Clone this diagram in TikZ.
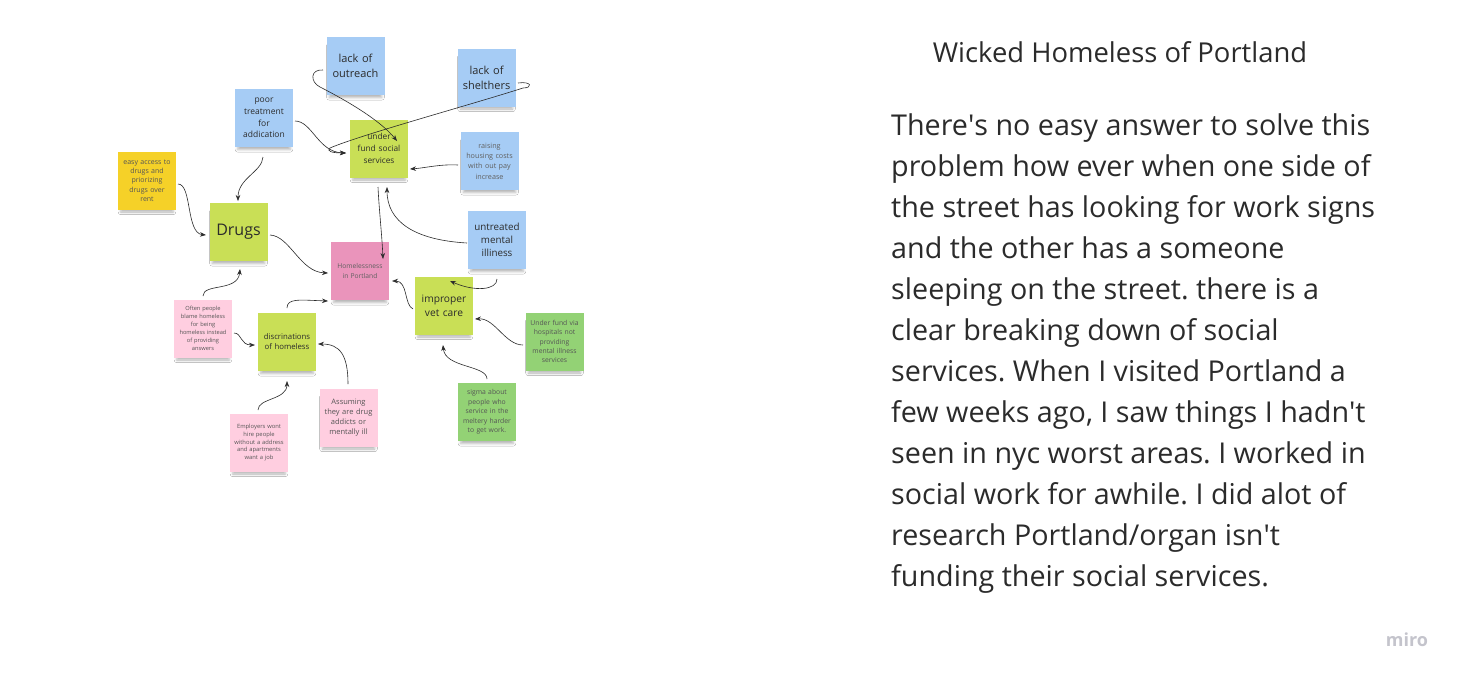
\documentclass[tikz,border=0pt]{standalone}
\usepackage{fontspec}
\setmainfont{Open Sans}
\usetikzlibrary{arrows.meta,calc,shadows.blur}
\definecolor{nblue}{HTML}{A6CCF5}
\definecolor{nyellow}{HTML}{F5D128}
\definecolor{ngreen}{HTML}{C9DF56}
\definecolor{ndgreen}{HTML}{93D275}
\definecolor{npink}{HTML}{EA94BB}
\definecolor{nlpink}{HTML}{FFCEE0}
\definecolor{ink}{HTML}{2B2B2B}
\definecolor{logo}{HTML}{C4C4CC}
\frenchspacing
\begin{document}
\begin{tikzpicture}[x=1pt,y=-1pt,
 note/.style={minimum width=58pt,minimum height=58pt,inner sep=0pt,align=center,text width=56pt,text=ink,
   blur shadow={shadow xshift=0pt,shadow yshift=-6pt,shadow blur radius=3pt,shadow opacity=30,shadow scale=0.9}},
 fs/.style 2 args={font=\fontsize{#1}{#2}\selectfont},
 link/.style={draw=ink,line width=0.6pt,-{Stealth[length=6pt,width=4.5pt]}},
]
\useasboundingbox[fill=white] (0,0) rectangle (1463,683);

% notes
\node[note,fill=nblue,fs={11}{15}] (outreach) at (355.5,66) {lack of\\outreach};
\node[note,fill=nblue,fs={11}{15}] (shelters) at (486.5,77.5) {lack of\\shelthers};
\node[note,fill=nblue,fs={8.5}{11.7}] (poor) at (264,118) {poor\\treatment\\for\\addication};
\node[note,fill=ngreen,fs={8.3}{11.7}] (underfund) at (379,148.5) {under\\fund social\\services};
\node[note,fill=nblue,fs={7.2}{10.3},text=ink!75] (raising) at (489.5,161) {raising\\housing costs\\with out pay\\increase};
\node[note,fill=nyellow,fs={7}{9.3},text=ink!80] (easy) at (147,180.5) {easy access to\\drugs and\\priorizing\\drugs over\\rent};
\node[note,fill=ngreen,fs={16}{19}] (drugs) at (238.5,232) {Drugs};
\node[note,fill=nblue,fs={9.8}{13.3}] (untreated) at (497,240) {untreated\\mental\\illiness};
\node[note,fill=npink,fs={6.7}{9.3},text=ink!75] (home) at (360,271) {Homelessness\\in Portland};
\node[note,fill=ngreen,fs={10.2}{14}] (vet) at (444,305.5) {improper\\vet care};
\node[note,fill=nlpink,fs={5.7}{7.9},text=ink!80] (often) at (203,328.5) {Often people\\blame homeless\\for being\\homeless instead\\of providing\\answers};
\node[note,fill=ngreen,fs={7.8}{10}] (discr) at (287,342) {discrinations\\of homeless};
\node[note,fill=ndgreen,fs={6.8}{9.2},text=ink!80] (hosp) at (554.5,341.5) {Under fund via\\hospitals not\\providing\\mental illness\\services};
\node[note,fill=ndgreen,fs={6.8}{9.5},text=ink!80] (sigma) at (487,412) {sigma about\\people who\\service in the\\meltery harder\\to get work.};
\node[note,fill=nlpink,fs={7.5}{10.2},text=ink!80] (assume) at (348.5,417.5) {Assuming\\they are drug\\addicts or\\mentally ill};
\node[note,fill=nlpink,fs={5.8}{7.8},text=ink!80] (employ) at (259,442.5) {Employers wont\\hire people\\without a address\\and apartments\\want a job};

% connectors
\draw[link] ($(poor)+(-1,39)$) .. controls ($(poor)+(-2,54)$) and ($(drugs)+(-0.5,-54)$) .. ($(drugs)+(-0.5,-31)$);
\draw[link] ($(easy)+(31,3.5)$) .. controls ($(easy)+(45,3.5)$) and ($(drugs)+(-52.5,1)$) .. ($(drugs)+(-32.5,3)$);
\draw[link] ($(poor)+(31,3)$) .. controls ($(poor)+(48,3)$) and ($(underfund)+(-61,3.5)$) .. ($(underfund)+(-33,4.5)$);
\draw[link] ($(outreach)+(-32.5,4)$) .. controls ($(outreach)+(-45.5,3)$) and ($(outreach)+(-45.5,16)$) .. ($(outreach)+(-35.5,21)$)
   .. controls ($(outreach)+(-10,34)$) and ($(underfund)+(1,-28.5)$) .. ($(underfund)+(18,-7.5)$);
\draw[link] ($(shelters)+(31.5,5.5)$) .. controls ($(shelters)+(45.5,3.5)$) and ($(shelters)+(46.5,10.5)$) .. ($(shelters)+(36.5,10.5)$)
   .. controls ($(shelters)+(-16.5,27.5)$) and ($(underfund)+(-19,-13.5)$) .. ($(underfund)+(-49,-0.5)$)
   .. controls ($(underfund)+(-53,2.5)$) and ($(underfund)+(-47,4.5)$) .. ($(underfund)+(-33,4.5)$);
\draw[link] ($(raising)+(-31.5,4)$) .. controls ($(raising)+(-49.5,3)$) and ($(underfund)+(46,19.5)$) .. ($(underfund)+(31,20.5)$);
\draw[link] ($(underfund)+(-1,38.5)$) .. controls ($(underfund)+(0,60)$) and ($(home)+(22,-35)$) .. ($(home)+(23,-12)$);
\draw[link] ($(untreated)+(-30,3)$) .. controls ($(untreated)+(-82,0)$) and ($(underfund)+(8,73.5)$) .. ($(underfund)+(8,38.5)$);
\draw[link] ($(drugs)+(31.5,3)$) .. controls ($(drugs)+(51.5,4)$) and ($(home)+(-60,1)$) .. ($(home)+(-32,2)$);
\draw[link] ($(untreated)+(0,39)$) .. controls ($(untreated)+(0,50)$) and ($(vet)+(31,-13.5)$) .. ($(vet)+(6,-24.5)$);
\draw[link] ($(vet)+(-31,3.5)$) .. controls ($(vet)+(-40,-0.5)$) and ($(home)+(48,10)$) .. ($(home)+(32,10)$);
\draw[link] ($(hosp)+(-31.5,3.5)$) .. controls ($(hosp)+(-49.5,3.5)$) and ($(vet)+(51,12.5)$) .. ($(vet)+(31,13.5)$);
\draw[link] ($(sigma)+(0,-33)$) .. controls ($(sigma)+(0,-47)$) and ($(vet)+(1,62.5)$) .. ($(vet)+(-1,39.5)$);
\draw[link] ($(discr)+(0,-34)$) .. controls ($(discr)+(0,-44)$) and ($(home)+(-60,29)$) .. ($(home)+(-32,30)$);
\draw[link] ($(often)+(31,4.5)$) .. controls ($(often)+(39,4.5)$) and ($(discr)+(-47,3)$) .. ($(discr)+(-32,3)$);
\draw[link] ($(often)+(0,-32.5)$) .. controls ($(often)+(0,-45.5)$) and ($(drugs)+(-0.5,60)$) .. ($(drugs)+(1.5,37)$);
\draw[link] ($(assume)+(-0.5,-33.5)$) .. controls ($(assume)+(-0.5,-62.5)$) and ($(discr)+(53,2)$) .. ($(discr)+(31,2)$);
\draw[link] ($(employ)+(-1,-32.5)$) .. controls ($(employ)+(-1,-44.5)$) and ($(discr)+(0,58)$) .. ($(discr)+(0,39)$);

% text
\node[anchor=base,fs={27.4}{32},text=ink] (title) at (1120,62) {Wicked Homeless of Portland};
\node[anchor=north west,inner sep=0pt,align=left,fs={28.7}{41},text=ink] (body) at (891,113) {There\textquotesingle s no easy answer to solve this\\
problem how ever when one side of\\
the street has looking for work signs\\
and the other has a someone\\
sleeping on the street. there is a\\
clear breaking down of social\\
services. When I visited Portland a\\
few weeks ago, I saw things I hadn\textquotesingle t\\
seen in nyc worst areas. I worked in\\
social work for awhile. I did alot of\\
research Portland/organ isn\textquotesingle t\\
funding their social services.};
\node[text=logo,font=\bfseries\fontsize{18}{20}\selectfont] (miro) at (1407,640) {miro};
\end{tikzpicture}
\end{document}
